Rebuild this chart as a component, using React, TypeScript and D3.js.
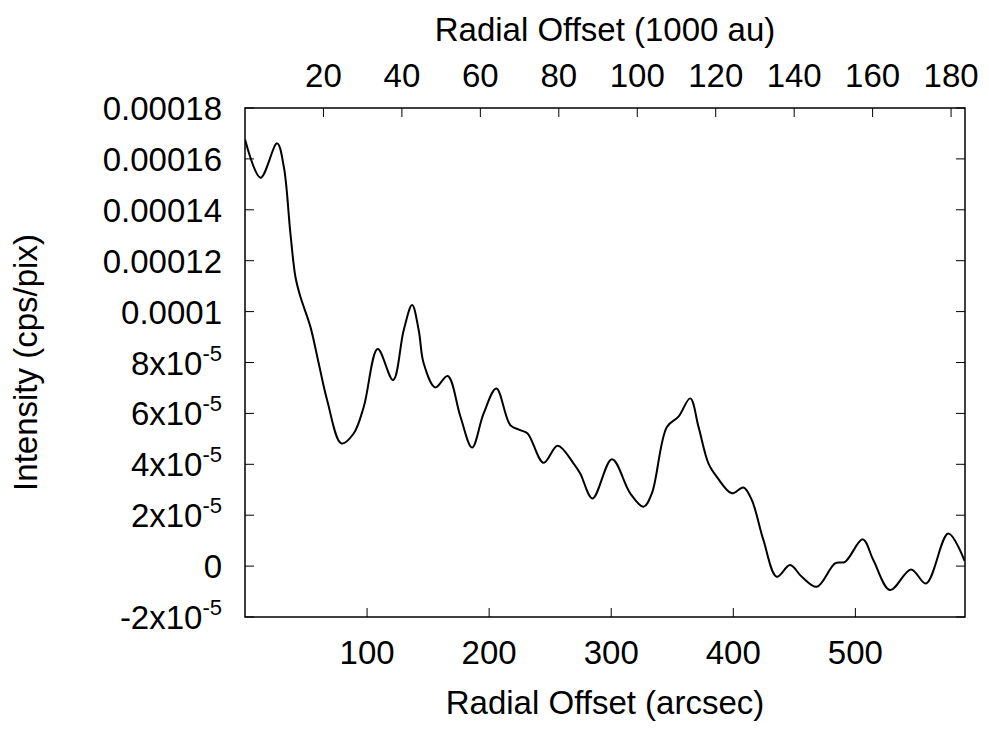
import React from "react";
import * as d3 from "d3";

// Radial offset (arcsec)
const offsetArcsec = [
  0, 12.7, 26.3, 31.8, 37.2, 41.3, 45.4, 53.6, 60.4, 67.3, 79, 89, 97.3, 108.7,
  121.3, 130, 136.9, 142.3, 146.4, 155.9, 166, 176.5, 186, 195.5, 205.9, 217.3,
  225.5, 231.5, 244.6, 256.1, 269.2, 274.6, 284.7, 300.6, 315.6, 326.5, 333.3,
  345.6, 355.1, 364.7, 371.5, 379.7, 386.5, 398.8, 408.3, 415.2, 424.7, 435.6,
  446.5, 456.1, 468.4, 483.4, 491.6, 506, 514.7, 528.4, 545.6, 557.9, 576.1, 589.5,
];
// Intensity in units of 1e-5 cps/pix
const intensity = [
  16.77, 15.26, 16.61, 15.69, 13.07, 11.37, 10.58, 9.4, 7.96, 6.52, 4.82, 5.21,
  6.26, 8.53, 7.31, 9.27, 10.26, 9.27, 7.96, 7.02, 7.47, 5.87, 4.66, 6.0, 6.98,
  5.54, 5.34, 5.21, 4.06, 4.73, 4.03, 3.64, 2.66, 4.2, 2.86, 2.33, 2.86, 5.47,
  5.87, 6.59, 5.47, 4.03, 3.51, 2.86, 3.09, 2.59, 1.02, -0.42, 0.04, -0.42,
  -0.81, 0.11, 0.17, 1.05, 0.24, -0.94, -0.13, -0.68, 1.28, 0.2,
];

const yTicks = [-2, 0, 2, 4, 6, 8, 10, 12, 14, 16, 18];
const yTickBase = ["-2x10", "0", "2x10", "4x10", "6x10", "8x10", "0.0001", "0.00012", "0.00014", "0.00016", "0.00018"];
const yTickSup = ["-5", "", "-5", "-5", "-5", "-5", "", "", "", "", ""];
const xBottomTicks = [100, 200, 300, 400, 500];
const xTopTicks = [20, 40, 60, 80, 100, 120, 140, 160, 180];

const W = 989;
const H = 730;
const L = 245;
const R = 965;
const T = 108;
const B = 617;
const FONT = "'Liberation Sans', Arial, sans-serif";
const FS = 33;

export default function App() {
  const x = d3.scaleLinear().domain([0, 589.8]).range([L, R]);
  const xTop = d3.scaleLinear().domain([0, 183.55]).range([L, R]);
  const y = d3.scaleLinear().domain([-2, 18]).range([B, T]);

  const pts: [number, number][] = offsetArcsec.map((d, i) => [x(d), y(intensity[i])]);
  const line = d3.line().curve(d3.curveCatmullRom.alpha(0.5));
  const path = line(pts) || "";

  const tick = 9;
  return (
    <svg width={W} height={H} style={{ position: "absolute", left: 0, top: 0, background: "#fff" }} fontFamily={FONT}>
      <rect x={0} y={0} width={W} height={H} fill="#fff" />
      <defs>
        <clipPath id="plotclip">
          <rect x={L} y={T} width={R - L} height={B - T} />
        </clipPath>
      </defs>
      {yTicks.map((t, i) => (
        <g key={"yt" + i}>
          <line x1={L} x2={L + tick} y1={y(t)} y2={y(t)} stroke="#000" strokeWidth={1} />
          <line x1={R} x2={R - tick} y1={y(t)} y2={y(t)} stroke="#000" strokeWidth={1} />
          <text x={222} y={y(t) + 12} fontSize={FS} textAnchor="end" fill="#000">
            {yTickBase[i]}
            {yTickSup[i] ? (
              <tspan fontSize={22} dy={-14}>{yTickSup[i]}</tspan>
            ) : null}
          </text>
        </g>
      ))}
      {xBottomTicks.map((t) => (
        <g key={"xb" + t}>
          <line x1={x(t)} x2={x(t)} y1={B} y2={B - tick} stroke="#000" strokeWidth={1} />
          <text x={x(t)} y={664} fontSize={FS} textAnchor="middle" fill="#000">{t}</text>
        </g>
      ))}
      {xTopTicks.map((t) => (
        <g key={"xt" + t}>
          <line x1={xTop(t)} x2={xTop(t)} y1={T} y2={T + tick} stroke="#000" strokeWidth={1} />
          <text x={xTop(t)} y={87} fontSize={FS} textAnchor="middle" fill="#000">{t}</text>
        </g>
      ))}
      <path d={path} fill="none" stroke="#000" strokeWidth={2} clipPath="url(#plotclip)" />
      <rect x={L} y={T} width={R - L} height={B - T} fill="none" stroke="#000" strokeWidth={1.5} />
      <text x={(L + R) / 2} y={41} fontSize={FS} textAnchor="middle" fill="#000">Radial Offset (1000 au)</text>
      <text x={(L + R) / 2} y={714} fontSize={FS} textAnchor="middle" fill="#000">Radial Offset (arcsec)</text>
      <text transform={`translate(37, ${(T + B) / 2}) rotate(-90)`} fontSize={FS} textAnchor="middle" fill="#000">Intensity (cps/pix)</text>
    </svg>
  );
}
